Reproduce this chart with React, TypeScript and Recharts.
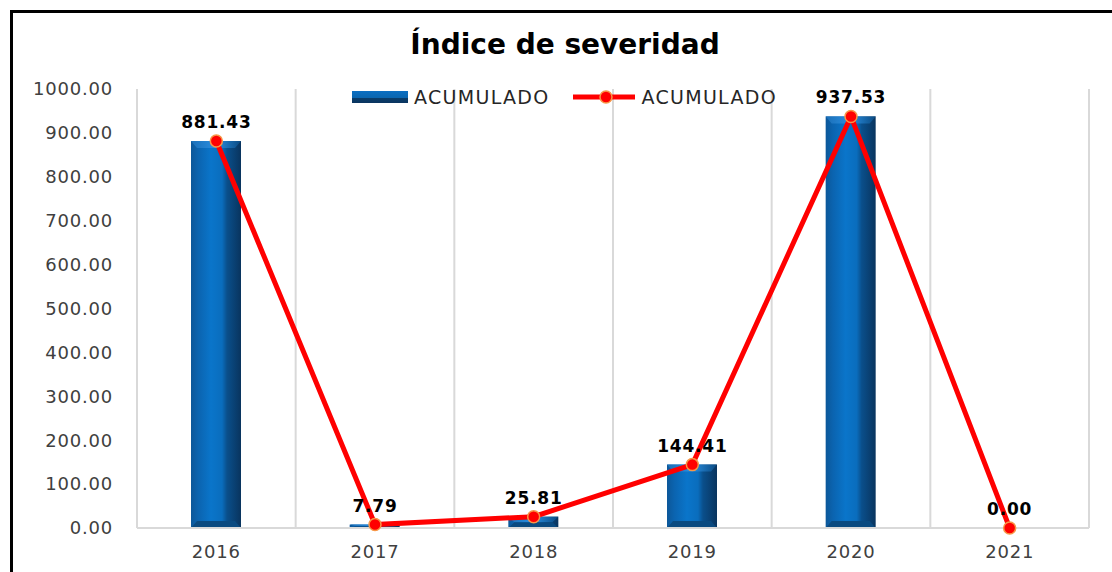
import React from "react";
import {
  ComposedChart,
  Bar,
  Line,
  XAxis,
  YAxis,
  CartesianGrid,
  Legend,
  LabelList,
} from "recharts";

const years = ["2016", "2017", "2018", "2019", "2020", "2021"];
const acumulado = [881.43, 7.79, 25.81, 144.41, 937.53, 0.0];
const yTicks = [0, 100, 200, 300, 400, 500, 600, 700, 800, 900, 1000];

const data = years.map((year, i) => ({ year, acumulado: acumulado[i] }));

const FONT = "'DejaVu Sans', Verdana, sans-serif";

// cylinder-ish bar like the excel bevel
const BevelBar = (props: any) => {
  const { x, y, width, height } = props;
  if (height == null || height <= 0) return null;
  const b = Math.min(7, height / 2);
  const s = Math.min(6, width / 4);
  return (
    <g>
      <rect x={x} y={y} width={width} height={height} fill="url(#barGrad)" />
      <polygon
        points={`${x},${y} ${x + width},${y} ${x + width - s},${y + b} ${x + s},${y + b}`}
        fill="url(#barTop)"
      />
      <polygon
        points={`${x},${y + height} ${x + s},${y + height - b} ${x + width - s},${y + height - b} ${x + width},${y + height}`}
        fill="#0a4a80"
      />
    </g>
  );
};

const LegendContent = (props: any) => {
  const items = props.payload || [];
  return (
    <div style={{ display: "flex", alignItems: "center", fontFamily: FONT }}>
      {items.map((item: any, i: number) => (
        <div key={i} style={{ display: "flex", alignItems: "center", marginRight: 24 }}>
          {item.type === "line" ? (
            <svg width={62} height={14} style={{ marginRight: 6 }}>
              <line x1={0} y1={7} x2={62} y2={7} stroke="#ff0000" strokeWidth={5} />
              <circle cx={33} cy={7} r={6} fill="#ff0000" stroke="#f79646" strokeWidth={1.5} />
            </svg>
          ) : (
            <svg width={56} height={12} style={{ marginRight: 6 }}>
              <rect x={0} y={0} width={56} height={12} fill="url(#legendGrad)" />
            </svg>
          )}
          <span style={{ fontSize: 19, letterSpacing: 1.3, color: "#262626" }}>{item.value}</span>
        </div>
      ))}
    </div>
  );
};

const App: React.FC = () => {
  return (
    <div style={{ position: "absolute", left: 0, top: 0, width: 1112, height: 572, background: "#fff" }}>
      <div
        style={{
          position: "absolute",
          left: 10,
          top: 10,
          width: 1110,
          height: 570,
          borderLeft: "3px solid #000",
          borderTop: "3px solid #000",
        }}
      />
      <div
        style={{
          position: "absolute",
          left: 0,
          top: 28,
          width: 1130,
          textAlign: "center",
          fontFamily: FONT,
          fontWeight: "bold",
          fontSize: 28,
          color: "#000",
        }}
      >
        Índice de severidad
      </div>
      <div style={{ position: "absolute", left: 0, top: 0 }}>
        <svg width={0} height={0} style={{ position: "absolute" }}>
          <defs>
            <linearGradient id="legendGrad" x1="0" y1="0" x2="0" y2="1">
              <stop offset="0" stopColor="#0b6fc2" />
              <stop offset="0.55" stopColor="#0a66b0" />
              <stop offset="0.6" stopColor="#0a3d6a" />
              <stop offset="1" stopColor="#0a3560" />
            </linearGradient>
          </defs>
        </svg>
        <ComposedChart
          width={1112}
          height={572}
          data={data}
          margin={{ top: 89, right: 23, bottom: 14, left: 17 }}
          style={{ fontFamily: FONT }}
        >
          <defs>
            <linearGradient id="barGrad" x1="0" y1="0" x2="1" y2="0">
              <stop offset="0" stopColor="#0c5799" />
              <stop offset="0.15" stopColor="#0b64b0" />
              <stop offset="0.4" stopColor="#0a75ca" />
              <stop offset="0.62" stopColor="#0a6dbd" />
              <stop offset="0.72" stopColor="#0a4f8b" />
              <stop offset="1" stopColor="#09345e" />
            </linearGradient>
            <linearGradient id="barTop" x1="0" y1="0" x2="1" y2="0">
              <stop offset="0" stopColor="#1a6fb8" />
              <stop offset="0.5" stopColor="#2a8ee0" />
              <stop offset="1" stopColor="#0a4a82" />
            </linearGradient>
          </defs>
          <CartesianGrid
            horizontal={false}
            stroke="#d9d9d9"
            strokeWidth={2}
            verticalCoordinatesGenerator={({ offset }: any) =>
              years.map((_, i) => offset.left + (i * offset.width) / years.length).concat(offset.left + offset.width)
            }
          />
          <XAxis
            dataKey="year"
            axisLine={{ stroke: "#d9d9d9", strokeWidth: 2 }}
            tickLine={false}
            tickSize={0}
            tickMargin={17}
            tick={{ fill: "#404040", fontSize: 18, letterSpacing: 0.8 }}
          />
          <YAxis
            width={120}
            domain={[0, 1000]}
            ticks={yTicks}
            interval={0}
            axisLine={false}
            tickLine={false}
            tickSize={0}
            tickMargin={24}
            tickFormatter={(v: number) => v.toFixed(2)}
            tick={{ fill: "#404040", fontSize: 18, letterSpacing: 0.8 }}
          />
          <Legend
            layout="horizontal"
            verticalAlign="middle"
            align="center"
            wrapperStyle={{ top: 86, left: 352, width: 480 }}
            content={<LegendContent />}
          />
          <Bar
            dataKey="acumulado"
            name="ACUMULADO"
            barSize={50}
            shape={<BevelBar />}
            legendType="rect"
            isAnimationActive={false}
          />
          <Line
            dataKey="acumulado"
            name="ACUMULADO"
            type="linear"
            stroke="#ff0000"
            strokeWidth={5}
            dot={{ r: 6, fill: "#ff0000", stroke: "#f79646", strokeWidth: 1.5 }}
            activeDot={false}
            legendType="line"
            isAnimationActive={false}
          >
            <LabelList
              dataKey="acumulado"
              position="top"
              offset={13}
              formatter={(v: any) => Number(v).toFixed(2)}
              style={{ fill: "#000", fontWeight: "bold", fontSize: 17, letterSpacing: 0.8 }}
            />
          </Line>
        </ComposedChart>
      </div>
    </div>
  );
};

export default App;
